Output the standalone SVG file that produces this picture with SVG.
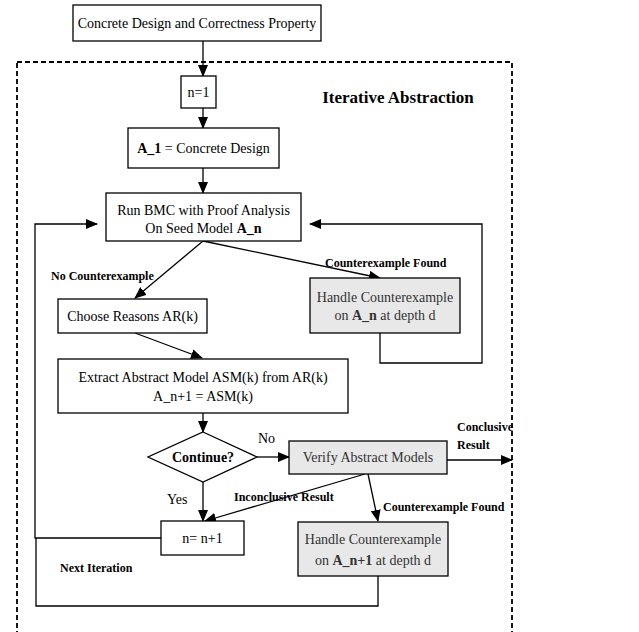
<svg xmlns="http://www.w3.org/2000/svg" width="639" height="632" viewBox="0 0 639 632">
<style>
.box{fill:#fff;stroke:#000;stroke-width:1.3}
.gray{fill:#e8e8e8;stroke:#000;stroke-width:1.3}
.t{font-family:"Liberation Serif","Times New Roman",serif;font-size:14px;fill:#000;text-anchor:middle}
.g{fill:#333}
.lbl{font-family:"Liberation Serif","Times New Roman",serif;font-size:12px;font-weight:bold;fill:#000}
.c{fill:none;stroke:#000;stroke-width:1.3}
</style>
<defs>
<marker id="ah" markerWidth="12" markerHeight="10" refX="11" refY="5" orient="auto" markerUnits="userSpaceOnUse">
<path d="M0,0 L12,5 L0,10 Z" fill="#000"/>
</marker>
</defs>
<rect x="17" y="62" width="495" height="600" fill="none" stroke="#000" stroke-width="1.8" stroke-dasharray="5,3"/>
<text x="398" y="103" class="t" style="font-size:17px;font-weight:bold">Iterative Abstraction</text>
<g id="connectors">
<path class="c" d="M203,41 V76" marker-end="url(#ah)"/>
<path class="c" d="M203,108 V128" marker-end="url(#ah)"/>
<path class="c" d="M203,168 V193" marker-end="url(#ah)"/>
<path class="c" d="M203,241 L135,298" marker-end="url(#ah)"/>
<path class="c" d="M203,241 L380,278" marker-end="url(#ah)"/>
<path class="c" d="M380,333 V363 H482 V224 H310" marker-end="url(#ah)"/>
<path class="c" d="M135,333 L202,358" marker-end="url(#ah)"/>
<path class="c" d="M203,413 V432" marker-end="url(#ah)"/>
<path class="c" d="M257,457 H289" marker-end="url(#ah)"/>
<path class="c" d="M447,460 H512" marker-end="url(#ah)"/>
<path class="c" d="M203,482 V521" marker-end="url(#ah)"/>
<path class="c" d="M365,474 L205,521" marker-end="url(#ah)"/>
<path class="c" d="M368,474 L378,521" marker-end="url(#ah)"/>
<path class="c" d="M161,538 H35 V224 H97" marker-end="url(#ah)"/>
<path class="c" d="M378,576 V606 H36 V538"/>
<text x="51" y="280" class="lbl">No Counterexample</text>
<text x="325" y="267" class="lbl">Counterexample Found</text>
<text x="258" y="443" class="t" style="text-anchor:start">No</text>
<text x="457" y="431" class="lbl">Conclusive</text>
<text x="457" y="449" class="lbl">Result</text>
<text x="167" y="504" class="t" style="text-anchor:start">Yes</text>
<text x="234" y="501" class="lbl">Inconclusive Result</text>
<text x="383" y="511" class="lbl">Counterexample Found</text>
<text x="60" y="572" class="lbl">Next Iteration</text>
</g>
<g id="start">
<rect class="box" x="73" y="5" width="248" height="36"/>
<text x="197" y="28" class="t">Concrete Design and Correctness Property</text>
</g>
<g id="n1">
<rect class="box" x="181" y="76" width="35" height="32"/>
<text x="198.5" y="97" class="t">n=1</text>
</g>
<g id="a1">
<rect class="box" x="128" y="128" width="151" height="40"/>
<text x="203.5" y="153" class="t"><tspan font-weight="bold">A_1</tspan> = Concrete Design</text>
</g>
<g id="runbmc">
<rect class="box" x="106" y="193" width="195" height="48"/>
<text x="203.5" y="215" class="t">Run BMC with Proof Analysis</text>
<text x="203.5" y="233" class="t">On Seed Model <tspan font-weight="bold">A_n</tspan></text>
</g>
<g id="handle1">
<rect class="gray" x="310" y="278" width="150" height="55"/>
<text x="385" y="302" class="t g">Handle Counterexample</text>
<text x="385" y="320" class="t g">on <tspan font-weight="bold">A_n</tspan> at depth d</text>
</g>
<g id="choose">
<rect class="box" x="58" y="299" width="149" height="34"/>
<text x="132.5" y="321" class="t">Choose Reasons AR(k)</text>
</g>
<g id="extract">
<rect class="box" x="58" y="359" width="290" height="54"/>
<text x="203" y="382" class="t">Extract Abstract Model ASM(k)  from AR(k)</text>
<text x="203" y="401" class="t">A_n+1 = ASM(k)</text>
</g>
<g id="continue">
<polygon class="box" points="203,432 257,457 203,482 148,457"/>
<text x="203" y="462" class="t" style="font-weight:bold">Continue?</text>
</g>
<g id="verify">
<rect class="gray" x="289" y="441" width="158" height="33"/>
<text x="368" y="462" class="t g">Verify Abstract Models</text>
</g>
<g id="inc">
<rect class="box" x="161" y="521" width="83" height="34"/>
<text x="202.5" y="543" class="t">n= n+1</text>
</g>
<g id="handle2">
<rect class="gray" x="298" y="522" width="150" height="54"/>
<text x="373" y="544" class="t g">Handle Counterexample</text>
<text x="373" y="565" class="t g">on <tspan font-weight="bold">A_n+1</tspan> at depth d</text>
</g>
</svg>
